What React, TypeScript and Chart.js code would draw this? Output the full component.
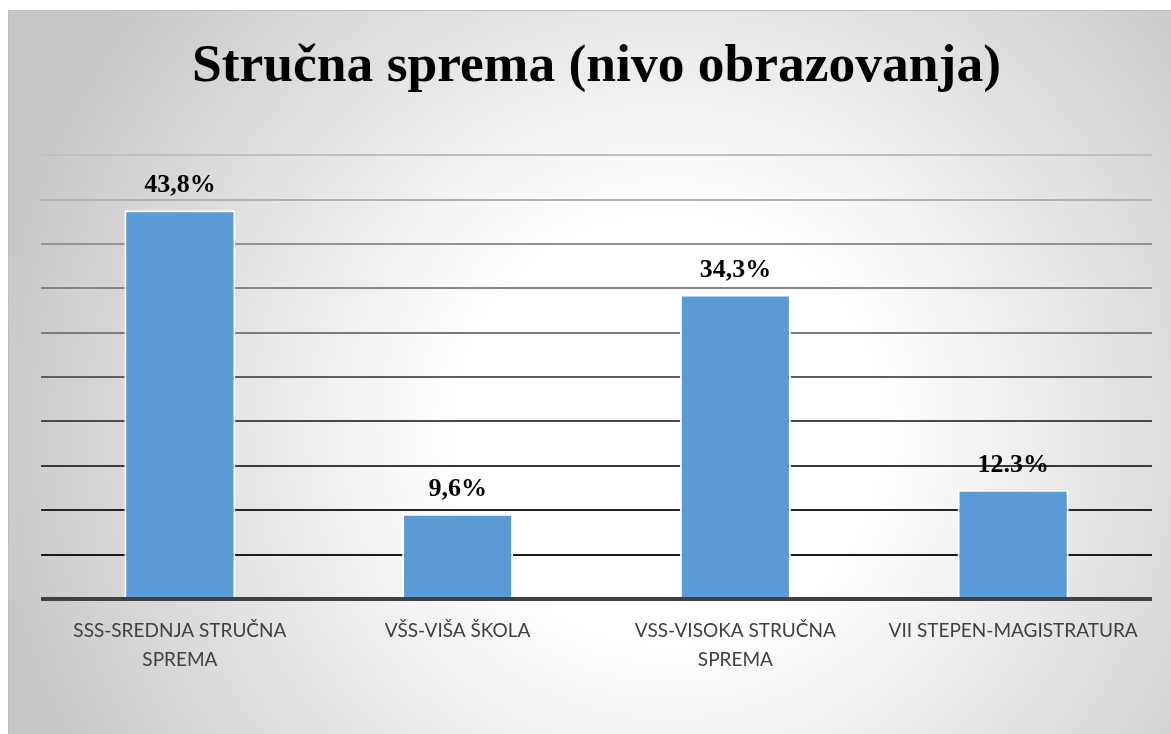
import React, { useEffect, useRef } from "react";
import { Chart, registerables } from "chart.js";

Chart.register(...registerables);

const chartTitle = "Stručna sprema (nivo obrazovanja)";
const categories: string[][] = [
  ["SSS-SREDNJA STRUČNA", "SPREMA"],
  ["VŠS-VIŠA ŠKOLA"],
  ["VSS-VISOKA STRUČNA", "SPREMA"],
  ["VII STEPEN-MAGISTRATURA"],
];
const values = [43.8, 9.6, 34.3, 12.3];
const valueLabels = ["43,8%", "9,6%", "34,3%", "12.3%"];
const yMax = 50;
const yStep = 5;

const gridColors: Record<number, string> = {
  0: "#404040",
  5: "#1a1a1a",
  10: "#262626",
  15: "#3a3a3a",
  20: "#4a4a4a",
  25: "#5e5e5e",
  30: "#7a7a7a",
  35: "#858585",
  40: "#929292",
  45: "#b3b3b3",
  50: "#c0c0c0",
};

const W = 1163;
const H = 724;

const bgPlugin = {
  id: "bgPlugin",
  beforeDraw(chart: any) {
    const ctx = chart.ctx as CanvasRenderingContext2D;
    ctx.save();
    const g = ctx.createRadialGradient(660, 420, 0, 660, 420, 700);
    g.addColorStop(0, "#ffffff");
    g.addColorStop(0.3, "#ffffff");
    g.addColorStop(1, "#c6c6c6");
    ctx.fillStyle = g;
    ctx.fillRect(0, 0, chart.width, chart.height);
    ctx.strokeStyle = "#bdbdbd";
    ctx.lineWidth = 1;
    ctx.beginPath();
    ctx.moveTo(0.5, chart.height);
    ctx.lineTo(0.5, 0.5);
    ctx.lineTo(chart.width, 0.5);
    ctx.stroke();
    ctx.restore();
  },
};

const valueLabelPlugin = {
  id: "valueLabelPlugin",
  afterDatasetsDraw(chart: any) {
    const ctx = chart.ctx as CanvasRenderingContext2D;
    const meta = chart.getDatasetMeta(0);
    ctx.save();
    ctx.font = "bold 26px 'Liberation Serif', 'Times New Roman', serif";
    ctx.fillStyle = "#000000";
    ctx.textAlign = "center";
    ctx.textBaseline = "alphabetic";
    meta.data.forEach((bar: any, i: number) => {
      ctx.fillText(valueLabels[i], bar.x, bar.y - 18);
    });
    ctx.restore();
  },
};

export default function App() {
  const canvasRef = useRef<HTMLCanvasElement | null>(null);

  useEffect(() => {
    if (!canvasRef.current) return;
    const chart = new Chart(canvasRef.current, {
      type: "bar",
      data: {
        labels: categories,
        datasets: [
          {
            data: values,
            backgroundColor: "#5B9BD5",
            borderColor: "#ffffff",
            borderWidth: 2,
            categoryPercentage: 1,
            barPercentage: 0.4,
          },
        ],
      },
      options: {
        animation: false,
        responsive: false,
        maintainAspectRatio: false,
        layout: { padding: { left: 33, right: 19, top: 0, bottom: 42 } },
        plugins: {
          legend: { display: false },
          tooltip: { enabled: false },
          title: {
            display: true,
            text: chartTitle,
            color: "#000000",
            font: {
              family: "'Liberation Serif', 'Times New Roman', serif",
              size: 53.5,
              weight: "bold",
              lineHeight: 1.2,
            },
            padding: { top: 25, bottom: 56 },
          },
        },
        scales: {
          x: {
            grid: { display: false, drawTicks: false },
            border: { display: false },
            ticks: {
              color: "#404040",
              padding: 18,
              maxRotation: 0,
              autoSkip: false,
              font: { family: "Lato, 'Open Sans', sans-serif", size: 19, lineHeight: 1.5 },
            },
          },
          y: {
            min: 0,
            max: yMax,
            ticks: { display: false, stepSize: yStep },
            border: { display: false },
            grid: {
              drawTicks: false,
              color: (c: any) => gridColors[c.tick?.value] ?? "#888888",
              lineWidth: (c: any) => (c.tick?.value === 0 ? 4 : 2),
            },
          },
        },
      },
      plugins: [bgPlugin, valueLabelPlugin],
    });
    return () => chart.destroy();
  }, []);

  return (
    <div style={{ position: "fixed", left: 8, top: 10, width: W, height: H }}>
      <canvas ref={canvasRef} width={W} height={H} style={{ display: "block" }} />
    </div>
  );
}
